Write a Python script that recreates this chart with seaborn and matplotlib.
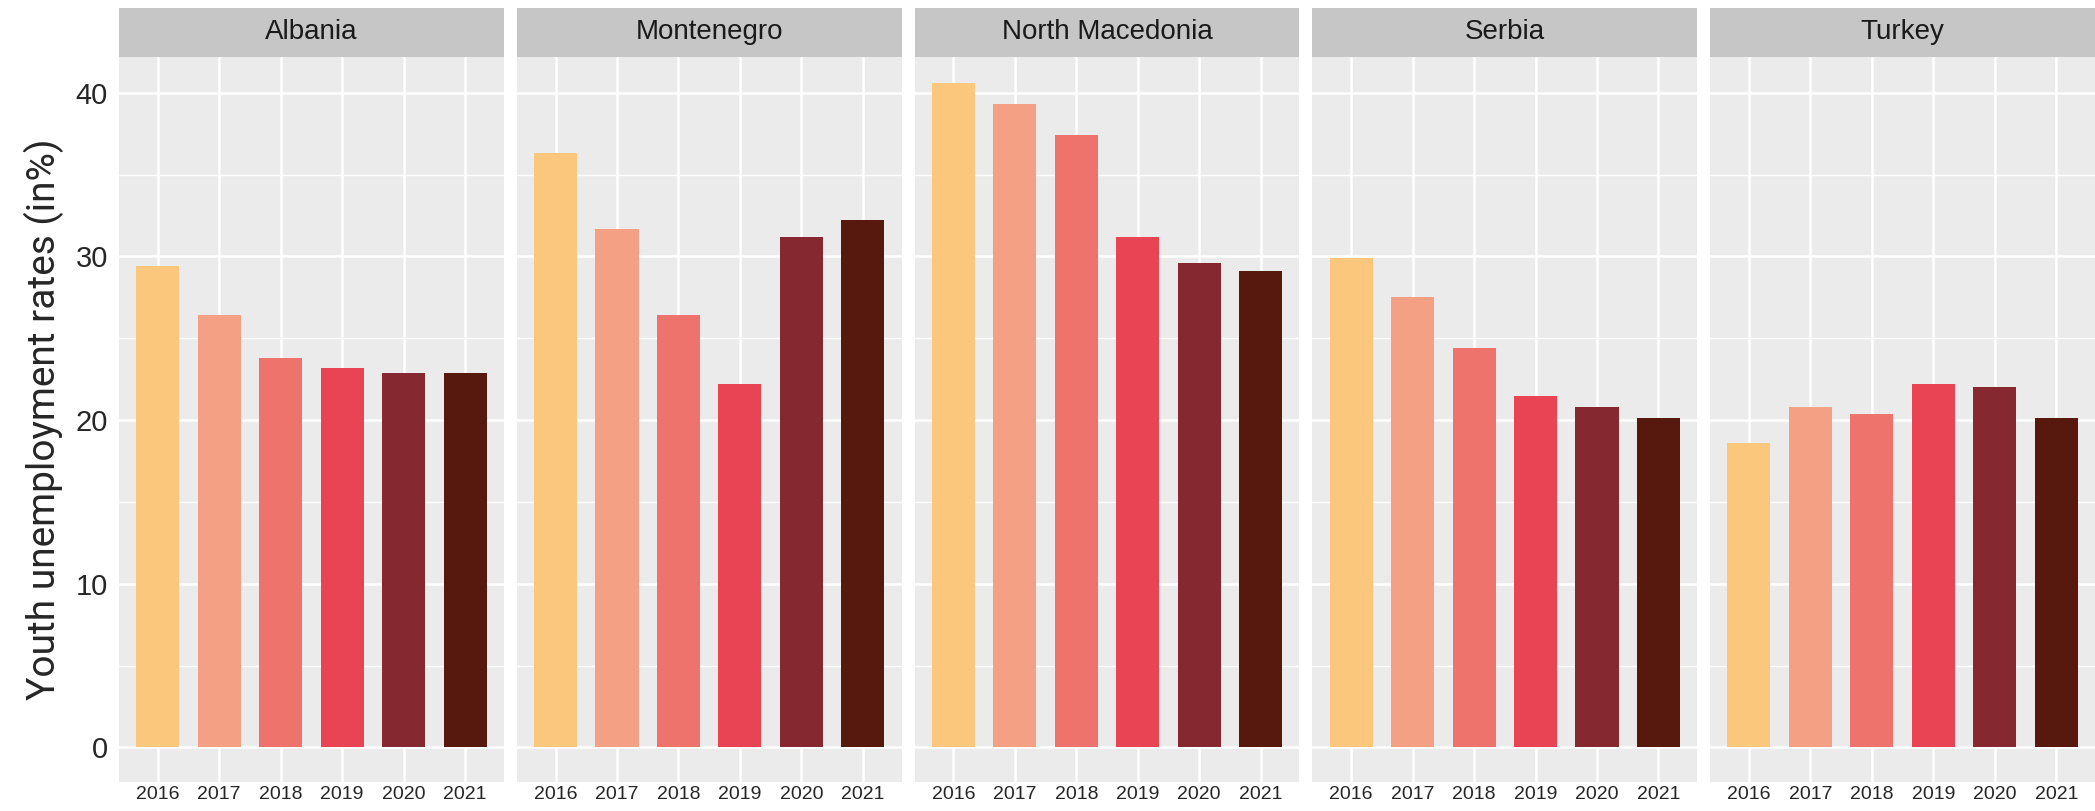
import matplotlib
matplotlib.use("Agg")
import matplotlib.pyplot as plt
from matplotlib.patches import Rectangle
import pandas as pd
import seaborn as sns

# dades llegides del grafic
countries = ["Albania", "Montenegro", "North Macedonia", "Serbia", "Turkey"]
years = ["2016", "2017", "2018", "2019", "2020", "2021"]
albania = [29.4, 26.4, 23.8, 23.2, 22.9, 22.9]
montenegro = [36.3, 31.7, 26.4, 22.2, 31.2, 32.2]
north_macedonia = [40.6, 39.3, 37.4, 31.2, 29.6, 29.1]
serbia = [29.9, 27.5, 24.4, 21.5, 20.8, 20.1]
turkey = [18.6, 20.8, 20.4, 22.2, 22.0, 20.1]
year_colors = ["#FAC77D", "#F3A085", "#EE736C", "#E84454", "#85282F", "#57190E"]

values = [albania, montenegro, north_macedonia, serbia, turkey]
rows = []
for c, vals in zip(countries, values):
    for y, v in zip(years, vals):
        rows.append({"country": c, "year": y, "rate": v})
df = pd.DataFrame(rows)

sns.set_theme(style="darkgrid")
plt.rcParams["font.family"] = ["Liberation Sans", "DejaVu Sans"]

fig, axes = plt.subplots(1, 5, sharey=True, figsize=(20.95, 8.11), dpi=100)
fig.subplots_adjust(left=0.0568, right=1.0, top=0.93, bottom=0.036, wspace=0.034)

for ax, c in zip(axes, countries):
    sub = df[df["country"] == c]
    sns.barplot(data=sub, x="year", y="rate", hue="year", palette=year_colors,
                order=years, hue_order=years, width=0.7, legend=False,
                saturation=1, linewidth=0, edgecolor="none", ax=ax)
    ax.set_facecolor("#EBEBEB")
    ax.set_xlim(-0.63, 5.63)
    ax.set_ylim(-2.1, 42.2)
    ax.set_yticks([0, 10, 20, 30, 40])
    ax.set_yticks([5, 15, 25, 35], minor=True)
    ax.grid(which="major", color="white", linewidth=1.8)
    ax.grid(which="minor", axis="y", color="white", linewidth=1.0)
    ax.set_axisbelow(True)
    ax.tick_params(axis="x", labelsize=14, pad=3, length=0)
    ax.tick_params(axis="y", labelsize=21, pad=8, length=0, which="both")
    ax.set_xlabel("")
    ax.set_ylabel("")
    for s in ax.spines.values():
        s.set_visible(False)
    # capçalera gris del facet
    ax.add_patch(Rectangle((0, 1), 1, 49 / 726, transform=ax.transAxes,
                           facecolor="#C6C6C6", edgecolor="none", clip_on=False))
    ax.text(0.5, 1 + 24.5 / 726, c, transform=ax.transAxes, ha="center",
            va="center", fontsize=20, color="#1A1A1A")

axes[0].set_ylabel("Youth unemployment rates (in%)", fontsize=28, labelpad=8,
                   family=["Roboto", "DejaVu Sans"])

plt.savefig("out.png", dpi=100)
